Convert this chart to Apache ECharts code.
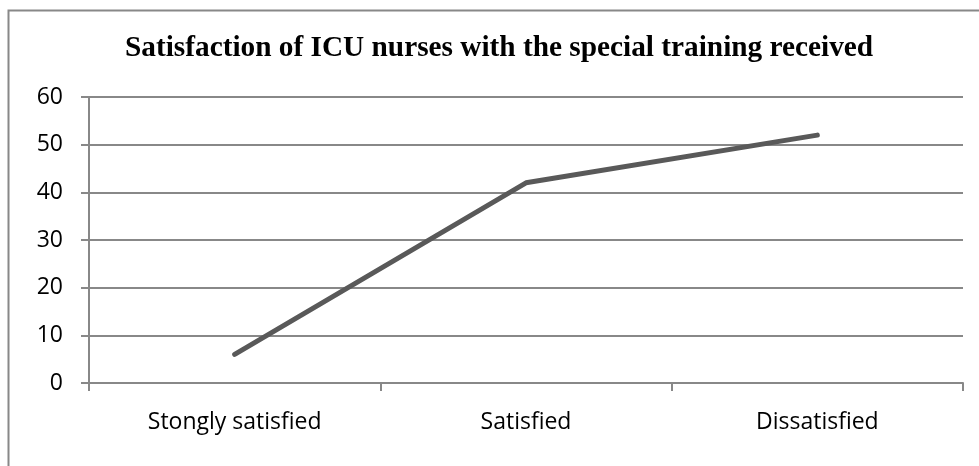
<!DOCTYPE html>
<html><head><meta charset="utf-8">
<script src="https://cdn.jsdelivr.net/npm/echarts@6/dist/echarts.min.js"></script>
<style>html,body{margin:0;padding:0;background:#fff}#c{width:979px;height:466px}</style>
</head><body><div id="c"></div>
<script>
const titleText = 'Satisfaction of ICU nurses with the special training received';
const categories = ['Stongly satisfied', 'Satisfied', 'Dissatisfied'];
const values = [6, 42, 52];
const yTicks = {min: 0, max: 60, interval: 10};

const chart = echarts.init(document.getElementById('c'), null, {renderer: 'canvas'});
chart.setOption({
  animation: false,
  backgroundColor: '#fff',
  title: {
    text: titleText, left: 125, top: 34, padding: 0,
    textStyle: {fontFamily: 'Liberation Serif', fontWeight: 'bold', fontSize: 29.3, color: '#000'}
  },
  graphic: [{
    type: 'rect', shape: {x: 8.5, y: 10.5, width: 1100, height: 600},
    style: {fill: 'none', stroke: '#888', lineWidth: 2}, silent: true
  }],
  grid: {left: 89, right: 16, top: 97, bottom: 83, containLabel: false},
  xAxis: {
    type: 'category', data: categories, boundaryGap: true,
    axisLine: {lineStyle: {color: '#888', width: 2}},
    axisTick: {show: true, length: 8, lineStyle: {color: '#888', width: 2}},
    axisLabel: {margin: 28, fontFamily: 'Open Sans', fontSize: 23, color: '#000'}
  },
  yAxis: {
    type: 'value', min: yTicks.min, max: yTicks.max, interval: yTicks.interval,
    axisLine: {show: true, lineStyle: {color: '#888', width: 2}},
    axisTick: {show: true, length: 8, lineStyle: {color: '#888', width: 2}},
    splitLine: {lineStyle: {color: '#888', width: 2}},
    axisLabel: {margin: 26, fontFamily: 'Open Sans', fontSize: 23, color: '#000'}
  },
  series: [{
    type: 'line', data: values, symbol: 'none',
    lineStyle: {color: '#595959', width: 5, cap: 'round'}
  }]
});
</script></body></html>
